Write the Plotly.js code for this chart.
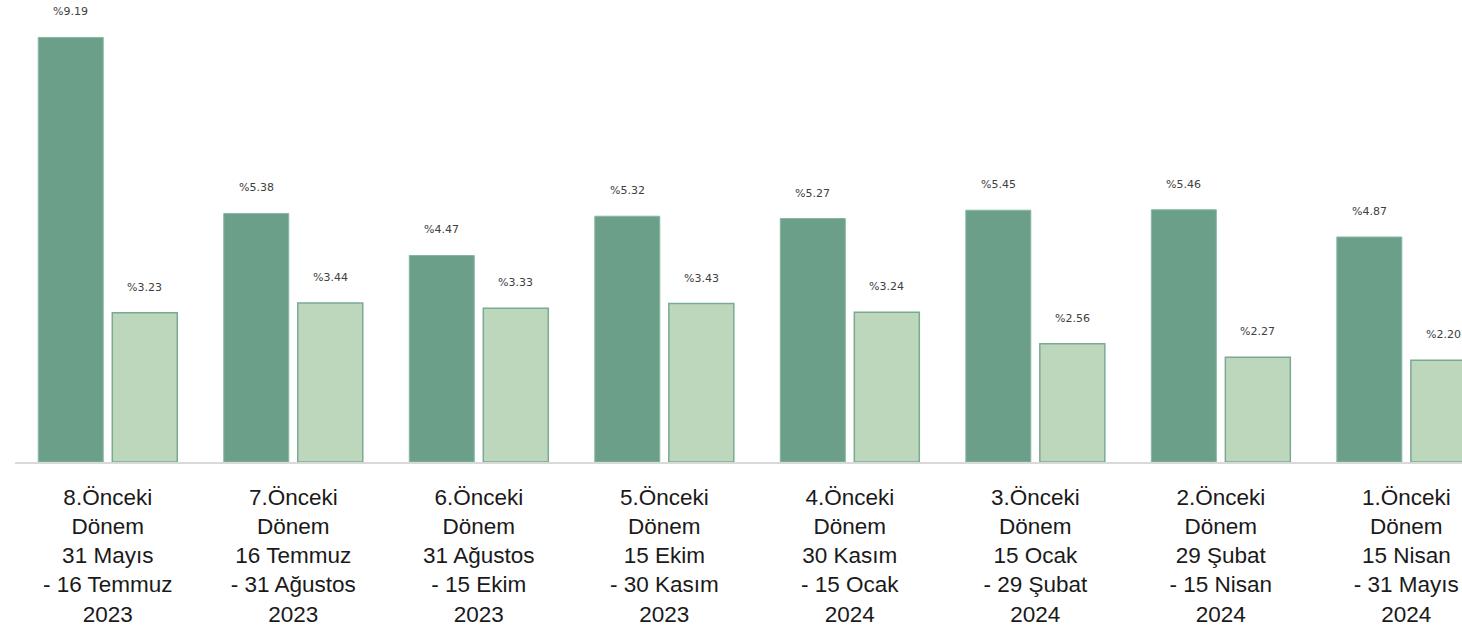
<!DOCTYPE html>
<html>
<head>
<meta charset="utf-8">
<script src="https://cdn.plot.ly/plotly-3.0.1.min.js"></script>
<style>html,body{margin:0;padding:0;background:#fff;}#chart{width:1462px;height:629px;}</style>
</head>
<body>
<div id="chart"></div>
<script>
const categories = [
  "8.Önceki<br>Dönem<br>31 Mayıs<br>- 16 Temmuz<br>2023",
  "7.Önceki<br>Dönem<br>16 Temmuz<br>- 31 Ağustos<br>2023",
  "6.Önceki<br>Dönem<br>31 Ağustos<br>- 15 Ekim<br>2023",
  "5.Önceki<br>Dönem<br>15 Ekim<br>- 30 Kasım<br>2023",
  "4.Önceki<br>Dönem<br>30 Kasım<br>- 15 Ocak<br>2024",
  "3.Önceki<br>Dönem<br>15 Ocak<br>- 29 Şubat<br>2024",
  "2.Önceki<br>Dönem<br>29 Şubat<br>- 15 Nisan<br>2024",
  "1.Önceki<br>Dönem<br>15 Nisan<br>- 31 Mayıs<br>2024"
];
const seriesDark = [9.19, 5.38, 4.47, 5.32, 5.27, 5.45, 5.46, 4.87];
const seriesLight = [3.23, 3.44, 3.33, 3.43, 3.24, 2.56, 2.27, 2.20];

const traces = [
  {type:'bar', x:categories, y:seriesDark, marker:{color:'#6b9f89', line:{color:'#88b8a0', width:1}}, hoverinfo:'skip'},
  {type:'bar', x:categories, y:seriesLight, marker:{color:'#bdd7bd', line:{color:'#7baa92', width:1.5}}, hoverinfo:'skip'}
];

const annotations = [];
function addLabels(vals, shift){
  vals.forEach((v,i)=>{
    annotations.push({x:categories[i], y:v, xref:'x', yref:'y', text:'%'+v.toFixed(2),
      showarrow:false, xshift:shift, yshift:17, yanchor:'bottom',
      font:{family:'DejaVu Sans', size:11, color:'#404040'}});
  });
}
addLabels(seriesDark, -37);
addLabels(seriesLight, 37);

const layout = {
  width:1462, height:629,
  margin:{l:15, r:0, t:0, b:167},
  paper_bgcolor:'#fff', plot_bgcolor:'#fff',
  barmode:'group', bargap:0.202, bargroupgap:0.122,
  showlegend:false,
  xaxis:{range:[-0.5, 7.3], showline:true, linecolor:'#d9d9d9', linewidth:1.5, showgrid:false, ticks:'',
    tickfont:{family:'Liberation Sans, Arial', size:22.5, color:'#1a1a1a'}, ticklabelstandoff:14, fixedrange:true},
  yaxis:{range:[0,10], visible:false, showgrid:false, zeroline:false, fixedrange:true},
  annotations:annotations
};
Plotly.newPlot('chart', traces, layout, {displayModeBar:false, staticPlot:true});
</script>
</body>
</html>
